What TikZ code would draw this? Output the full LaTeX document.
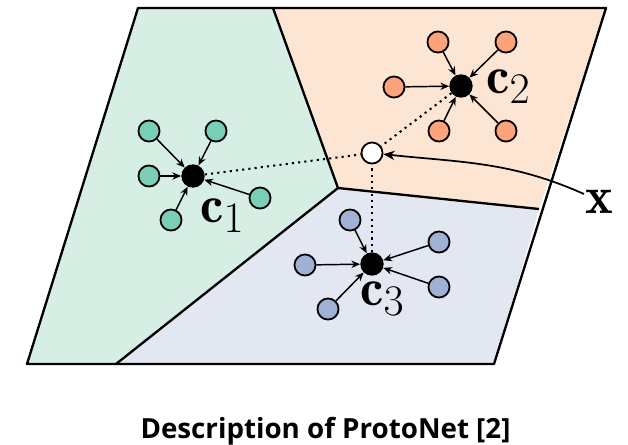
\documentclass[tikz,border=0pt]{standalone}
\usepackage{graphicx}
\usepackage{fontspec}
\newfontfamily\capfont{Open Sans}
\usetikzlibrary{arrows.meta}

\definecolor{regA}{HTML}{D6EEE3}
\definecolor{regB}{HTML}{FDE5D3}
\definecolor{regC}{HTML}{E3E7F1}
\definecolor{ptA}{HTML}{79CFB5}
\definecolor{ptB}{HTML}{FBA37A}
\definecolor{ptC}{HTML}{A0B1D5}

\newcommand{\biglab}[1]{\scalebox{1.58}{\Huge$#1$}}

\tikzset{
  border/.style={line width=1.75pt, line join=round},
  sample/.style={circle, draw=black, line width=1.35pt, inner sep=0pt, minimum size=15.8pt},
  proto/.style={circle, fill=black, inner sep=0pt, minimum size=17.5pt},
  query/.style={circle, draw=black, fill=white, line width=1.35pt, inner sep=0pt, minimum size=15.8pt},
  pull/.style={line width=1.1pt, -{Stealth[length=6.5pt,width=5.5pt]}},
  dist/.style={line width=1.5pt, dash pattern=on 1.6pt off 3.1pt},
  mlabel/.style={inner sep=0pt, anchor=base west},
}

\begin{document}
\begin{tikzpicture}[x=0.75pt, y=-0.75pt]
\useasboundingbox (0,0) rectangle (628,444);

% regions
\fill[regA] (138,8) -- (273,8) -- (338,188) -- (116,364) -- (27,364) -- cycle;
\fill[regB] (273,8) -- (606,8) -- (539,209) -- (338,188) -- cycle;
\fill[regC] (338,188) -- (539,209) -- (494,364) -- (116,364) -- cycle;
\draw[border] (138,8) -- (606,8) -- (494,364) -- (27,364) -- cycle;
\draw[border] (273,8) -- (338,188) -- (539,209);
\draw[border] (338,188) -- (116,364);

% prototypes and query
\node[proto] (c1) at (193,176) {};
\node[proto] (c2) at (461,86) {};
\node[proto] (c3) at (372,264) {};
\node[query] (x) at (372,153) {};

% distances to the query
\draw[dist] (c1) -- (x);
\draw[dist] (c2) -- (x);
\draw[dist] (c3) -- (x);

% class 1 samples
\node[sample, fill=ptA] (a1) at (149,131) {};
\node[sample, fill=ptA] (a2) at (216,131) {};
\node[sample, fill=ptA] (a3) at (149,176) {};
\node[sample, fill=ptA] (a4) at (171,220) {};
\node[sample, fill=ptA] (a5) at (260,198) {};
\foreach \s in {a1,a2,a3,a4,a5} \draw[pull] (\s) -- (c1);

% class 2 samples
\node[sample, fill=ptB] (b1) at (438,42) {};
\node[sample, fill=ptB] (b2) at (506,42) {};
\node[sample, fill=ptB] (b3) at (394,87) {};
\node[sample, fill=ptB] (b4) at (439,131) {};
\node[sample, fill=ptB] (b5) at (506,131) {};
\foreach \s in {b1,b2,b3,b4,b5} \draw[pull] (\s) -- (c2);

% class 3 samples
\node[sample, fill=ptC] (d1) at (350,220) {};
\node[sample, fill=ptC] (d2) at (439,242) {};
\node[sample, fill=ptC] (d3) at (305,265) {};
\node[sample, fill=ptC] (d4) at (439,287) {};
\node[sample, fill=ptC] (d5) at (328,309) {};
\foreach \s in {d1,d2,d3,d4,d5} \draw[pull] (\s) -- (c3);

% labels
\node[mlabel] (l1) at (200,222) {\biglab{\mathbf{c}_1}};
\node[mlabel] (l2) at (486,93) {\biglab{\mathbf{c}_2}};
\node[mlabel] (l3) at (360,305) {\biglab{\mathbf{c}_3}};
\node[mlabel] (xl) at (585,213) {\biglab{\mathbf{x}}};
\coordinate (xs) at (584,194);
\draw[line width=1.3pt, -{Stealth[length=8.5pt,width=7pt]}] (xs) to[out=156, in=-6] (x);

% caption
\node[inner sep=0pt, anchor=base, font=\capfont\bfseries\fontsize{20.8}{24}\selectfont] (cap) at (325.5,438) {Description of ProtoNet [2]};
\end{tikzpicture}
\end{document}
